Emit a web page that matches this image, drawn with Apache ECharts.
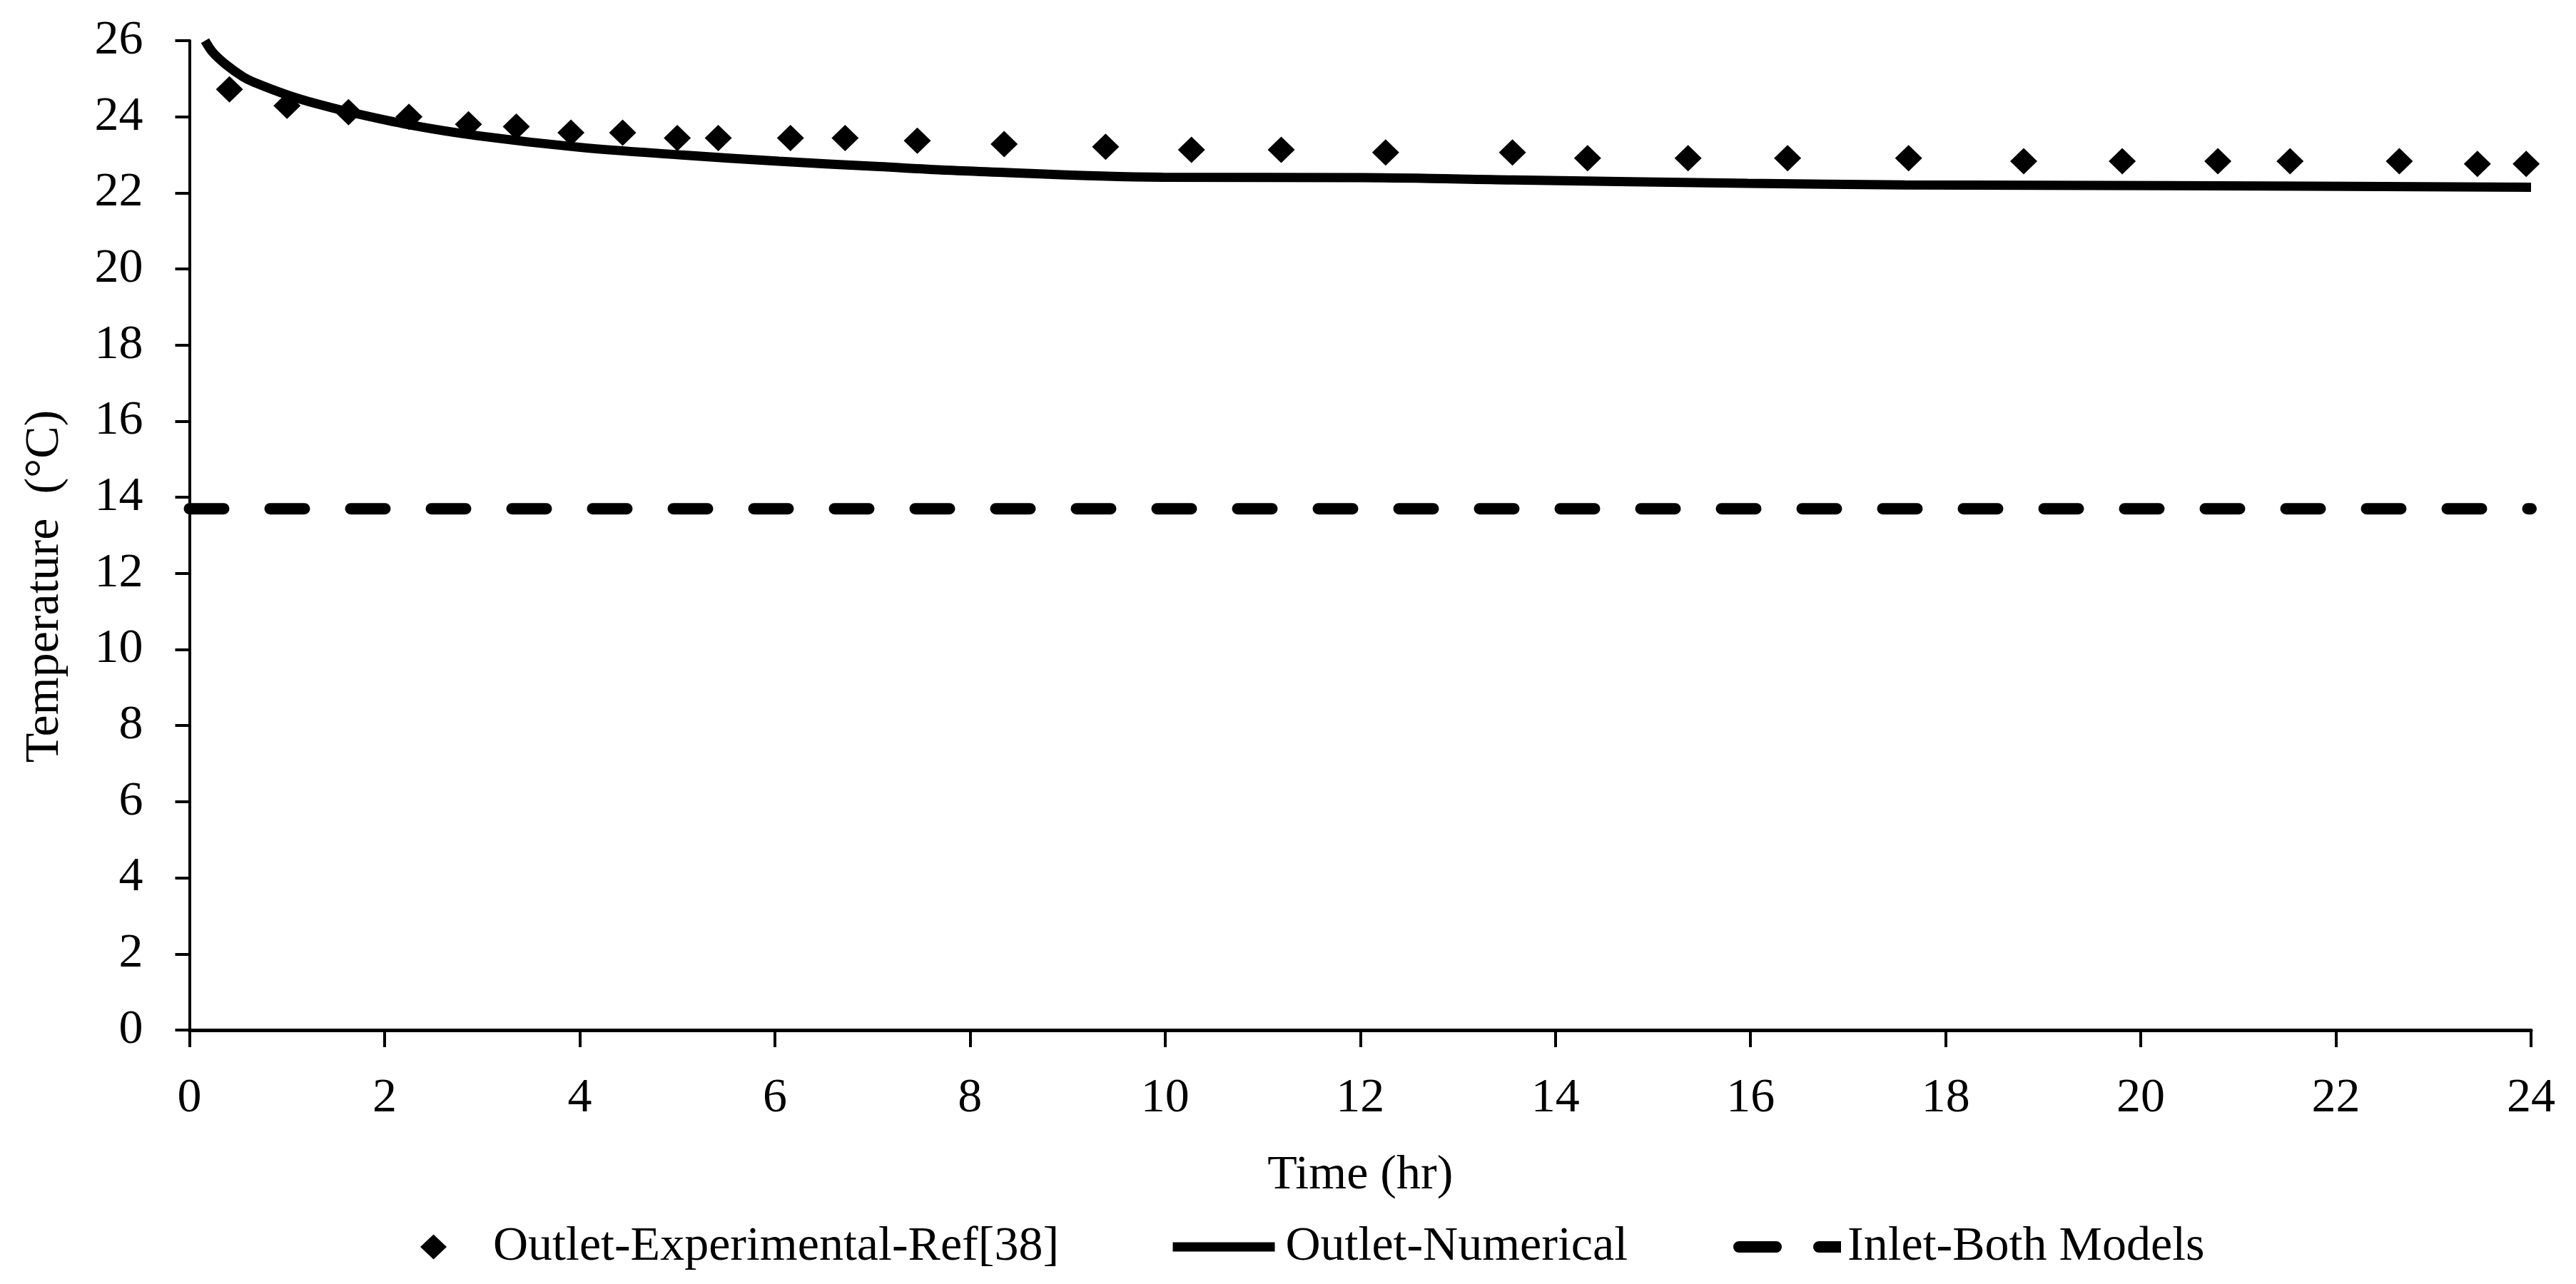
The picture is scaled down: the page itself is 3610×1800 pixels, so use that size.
<!DOCTYPE html>
<html>
<head>
<meta charset="utf-8">
<script src="https://cdn.jsdelivr.net/npm/echarts@6/dist/echarts.min.js"></script>
<style>
html,body{margin:0;padding:0;background:#fff;}
#chart{width:3610px;height:1800px;}
</style>
</head>
<body>
<div id="chart"></div>
<script>
// Experimental outlet temperature (diamonds)
const expTime = [0.41,1.00,1.63,2.25,2.86,3.35,3.91,4.44,5.00,5.42,6.16,6.72,7.46,8.35,9.39,10.27,11.19,12.26,13.56,14.33,15.36,16.38,17.62,18.80,19.81,20.79,21.53,22.65,23.45,23.95];
const expTemp = [24.72,24.29,24.12,24.00,23.80,23.74,23.58,23.58,23.44,23.44,23.44,23.44,23.37,23.28,23.21,23.13,23.13,23.06,23.06,22.91,22.91,22.91,22.91,22.83,22.83,22.83,22.83,22.83,22.76,22.76];
// Numerical outlet temperature (solid line)
const numTime = [0.16,0.24,0.37,0.55,0.66,1.01,1.32,1.63,2.25,2.96,3.99,5.02,6.04,7.07,7.93,9.98,12.03,13.57,15.97,17.58,20.27,24.0];
const numTemp = [26.0,25.69,25.38,25.05,24.91,24.57,24.33,24.13,23.79,23.50,23.20,23.00,22.83,22.69,22.58,22.41,22.40,22.34,22.25,22.21,22.19,22.15];
// Inlet temperature (dashed line)
const inletTime = [0, 24];
const inletTemp = [13.7, 13.7];
// Axis ticks
const xTicks = [0,2,4,6,8,10,12,14,16,18,20,22,24];
const yTicks = [0,2,4,6,8,10,12,14,16,18,20,22,24,26];
const seriesNames = ['Outlet-Experimental-Ref[38]','Outlet-Numerical','Inlet-Both Models'];
const xTitle = 'Time (hr)';
const yTitle = 'Temperature  (°C)';

const FONT = 'Liberation Serif';
const FS = 68;
const pair = (xs, ys) => xs.map((x, i) => [x, ys[i]]);
const dashIcon = 'path://M8,0 H60 A8,8 0 0 1 60,16 H8 A8,8 0 0 1 8,0 Z M120,0 H151 V16 H120 A8,8 0 0 1 120,0 Z';

const chart = echarts.init(document.getElementById('chart'), null, {renderer: 'canvas'});
const legendText = (pad) => ({fontFamily: FONT, fontSize: FS, color: '#000', lineHeight: 68, padding: [0, 0, 0, pad]});
chart.setOption({
  backgroundColor: '#fff',
  animation: false,
  grid: {left: 265.5, right: 63, top: 57, bottom: 356, containLabel: false},
  xAxis: {
    type: 'value', min: xTicks[0], max: xTicks[xTicks.length-1], interval: 2,
    name: xTitle, nameLocation: 'middle', nameGap: 170,
    nameTextStyle: {fontFamily: FONT, fontSize: FS, color: '#000'},
    axisLine: {show: true, onZero: false, lineStyle: {color: '#000', width: 5}},
    axisTick: {show: true, inside: false, length: 24, lineStyle: {color: '#000', width: 4}},
    axisLabel: {fontFamily: FONT, fontSize: FS, color: '#000', margin: 62},
    splitLine: {show: false}
  },
  yAxis: {
    type: 'value', min: yTicks[0], max: yTicks[yTicks.length-1], interval: 2,
    axisLine: {show: true, lineStyle: {color: '#000', width: 4}},
    axisTick: {show: true, inside: false, length: 20, lineStyle: {color: '#000', width: 4}},
    axisLabel: {fontFamily: FONT, fontSize: FS, color: '#000', margin: 65},
    splitLine: {show: false}
  },
  graphic: [{
    type: 'text', x: 63, y: 822, rotation: Math.PI/2,
    style: {text: yTitle, fontFamily: FONT, fontSize: FS, fill: '#000', align: 'center', verticalAlign: 'middle'}
  }],
  legend: [
    {data: [{name: seriesNames[0], icon: 'diamond'}], left: 589, top: 1714, padding: 0,
     itemWidth: 37, itemHeight: 35, itemStyle: {color: '#000', borderWidth: 0}, textStyle: legendText(60)},
    {data: [{name: seriesNames[1]}], left: 1637, top: 1714, padding: 0,
     itemWidth: 143, itemHeight: 14, lineStyle: {width: 13, type: 'solid', cap: 'butt'}, textStyle: legendText(10)},
    {data: [{name: seriesNames[2], icon: dashIcon}], left: 2429, top: 1714, padding: 0,
     itemWidth: 151, itemHeight: 16, itemStyle: {color: '#000', borderWidth: 0}, textStyle: legendText(4)}
  ],
  series: [
    {
      name: seriesNames[1], type: 'line', data: pair(numTime, numTemp),
      smooth: 0.35, symbol: 'none', showSymbol: false, clip: true,
      lineStyle: {color: '#000', width: 13}, itemStyle: {color: '#000'}, z: 2
    },
    {
      name: seriesNames[2], type: 'line', data: pair(inletTime, inletTemp),
      symbol: 'none', showSymbol: false,
      lineStyle: {color: '#000', width: 16, type: [48, 65], cap: 'round'}, itemStyle: {color: '#000'}, z: 2
    },
    {
      name: seriesNames[0], type: 'scatter', data: pair(expTime, expTemp),
      symbol: 'diamond', symbolSize: [38, 37],
      itemStyle: {color: '#000', opacity: 1}, z: 3
    }
  ]
});
</script>
</body>
</html>
